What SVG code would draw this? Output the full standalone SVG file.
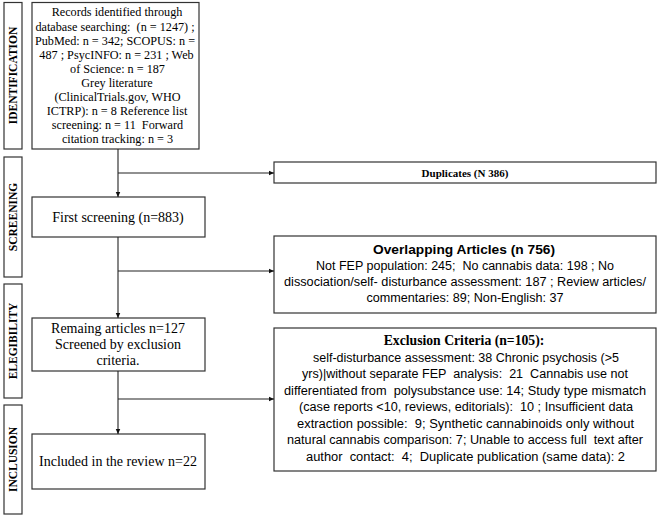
<svg xmlns="http://www.w3.org/2000/svg" width="661" height="518" viewBox="0 0 661 518">
<style>
text{white-space:pre}
.box{fill:#fff;stroke:#333;stroke-width:1.2}
.lbl{font-family:"Liberation Serif","Times New Roman",serif;font-weight:bold;font-size:11.5px;fill:#000;text-anchor:middle}
.ser{font-family:"Liberation Serif","Times New Roman",serif;fill:#000;text-anchor:middle}
.san{font-family:"Liberation Sans",Arial,sans-serif;fill:#000;text-anchor:middle;font-size:12.5px}
.ln{fill:none;stroke:#222;stroke-width:1.1}
</style>
<defs>
<marker id="ah" markerWidth="6" markerHeight="6" refX="5.5" refY="3" orient="auto" markerUnits="userSpaceOnUse">
<path d="M0,0.5 L5.5,3 L0,5.5 Z" fill="#111"/>
</marker>
</defs>
<rect width="661" height="518" fill="#fff"/>

<g id="stage-identification">
<rect class="box" x="4" y="2.5" width="18" height="146.5"/>
<text class="lbl" transform="translate(17,75.5) rotate(-90)">IDENTIFICATION</text>
</g>
<g id="stage-screening">
<rect class="box" x="4" y="157" width="18" height="120"/>
<text class="lbl" transform="translate(17,217) rotate(-90)">SCREENING</text>
</g>
<g id="stage-eligibility">
<rect class="box" x="4" y="284" width="18" height="114"/>
<text class="lbl" transform="translate(17,341) rotate(-90)">ELEGIBILITY</text>
</g>
<g id="stage-inclusion">
<rect class="box" x="4" y="405" width="18" height="109"/>
<text class="lbl" transform="translate(17,459.5) rotate(-90)">INCLUSION</text>
</g>

<g id="records">
<rect class="box" x="32" y="2.5" width="167" height="146.5"/>
<g class="ser" font-size="12.2">
<text x="117" y="16">Records identified through</text>
<text x="115" y="31">database searching:  (n = 1247) ;</text>
<text x="115" y="45">PubMed: n = 342; SCOPUS: n =</text>
<text x="116.5" y="59">487 ; PsycINFO: n = 231 ; Web</text>
<text x="117.5" y="73">of Science: n = 187</text>
<text x="117" y="87">Grey literature</text>
<text x="117.5" y="101">(ClinicalTrials.gov, WHO</text>
<text x="117" y="115">ICTRP): n = 8 Reference list</text>
<text x="117.5" y="129">screening: n = 11  Forward</text>
<text x="117.5" y="143">citation tracking: n = 3</text>
</g>
</g>

<g id="first-screening">
<rect class="box" x="32" y="197" width="173" height="40"/>
<text class="ser" font-size="14" x="118" y="222">First screening (n=883)</text>
</g>

<g id="remaining">
<rect class="box" x="32" y="318" width="173" height="53"/>
<g class="ser" font-size="14">
<text x="118" y="333">Remaing articles n=127</text>
<text x="118" y="349">Screened by exclusion</text>
<text x="118" y="365">criteria.</text>
</g>
</g>

<g id="included">
<rect class="box" x="32" y="434" width="173" height="55"/>
<text class="ser" font-size="14" x="118" y="466">Included in the review n=22</text>
</g>

<g id="duplicates">
<rect class="box" x="274" y="162" width="382" height="21"/>
<text class="ser" font-size="11" font-weight="bold" x="465" y="177">Duplicates (N 386)</text>
</g>

<g id="overlapping">
<rect class="box" x="274" y="236" width="382" height="77"/>
<text class="san" font-weight="bold" font-size="14.5" x="464" y="254" textLength="182" lengthAdjust="spacingAndGlyphs">Overlapping Articles (n 756)</text>
<text class="san" x="465" y="270" textLength="298" lengthAdjust="spacingAndGlyphs">Not FEP population: 245;  No cannabis data: 198 ; No</text>
<text class="san" x="465" y="286" textLength="362" lengthAdjust="spacingAndGlyphs">dissociation/self- disturbance assessment: 187 ; Review articles/</text>
<text class="san" x="465" y="302" textLength="197" lengthAdjust="spacingAndGlyphs">commentaries: 89; Non-English: 37</text>
</g>

<g id="exclusion">
<rect class="box" x="274" y="328" width="382" height="143"/>
<text class="ser" font-weight="bold" font-size="13.7" x="464" y="345">Exclusion Criteria (n=105):</text>
<text class="san" x="466" y="362" textLength="306" lengthAdjust="spacingAndGlyphs">self-disturbance assessment: 38 Chronic psychosis (&gt;5</text>
<text class="san" x="465" y="378" textLength="326" lengthAdjust="spacingAndGlyphs">yrs)|without separate FEP  analysis:  21  Cannabis use not</text>
<text class="san" x="465" y="395" textLength="362" lengthAdjust="spacingAndGlyphs">differentiated from  polysubstance use: 14; Study type mismatch</text>
<text class="san" x="466" y="411" textLength="334" lengthAdjust="spacingAndGlyphs">(case reports &lt;10, reviews, editorials):  10 ; Insufficient data</text>
<text class="san" x="465.5" y="428" textLength="337" lengthAdjust="spacingAndGlyphs">extraction possible:  9; Synthetic cannabinoids only without</text>
<text class="san" x="465" y="444" textLength="356" lengthAdjust="spacingAndGlyphs">natural cannabis comparison: 7; Unable to access full  text after</text>
<text class="san" x="465.5" y="461" textLength="319" lengthAdjust="spacingAndGlyphs">author  contact:  4;  Duplicate publication (same data): 2</text>
</g>

<g id="connectors">
<line class="ln" x1="118" y1="149" x2="118" y2="197" marker-end="url(#ah)"/>
<line class="ln" x1="118" y1="173" x2="274" y2="173" marker-end="url(#ah)"/>
<line class="ln" x1="118" y1="237" x2="118" y2="318" marker-end="url(#ah)"/>
<line class="ln" x1="118" y1="271" x2="274" y2="271" marker-end="url(#ah)"/>
<line class="ln" x1="118" y1="371" x2="118" y2="434" marker-end="url(#ah)"/>
<line class="ln" x1="118" y1="399" x2="274" y2="399" marker-end="url(#ah)"/>
</g>
</svg>
